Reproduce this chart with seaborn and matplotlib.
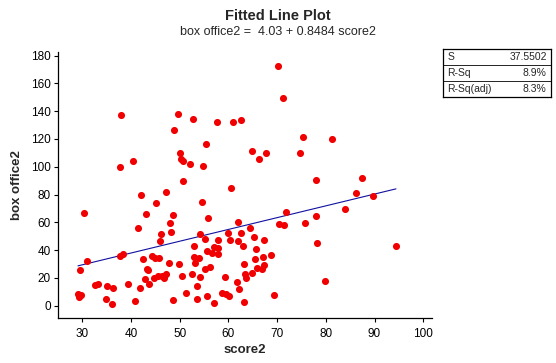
import matplotlib
matplotlib.use("Agg")
import matplotlib.pyplot as plt
import numpy as np
import pandas as pd
import seaborn as sns

# values
score2 = [
    37.9, 49.6, 52.7, 48.8, 57.7, 60.9, 62.6, 55.3, 50.1, 50.3,
    50.7, 52.1, 54.8, 64.9, 66.3, 37.7, 40.4, 50.7, 60.5, 70.2,
    71.2, 75.3, 81.3, 67.7, 74.7, 78.0, 87.5, 42.0, 47.2, 45.1,
    54.6, 30.3, 43.1, 48.6, 55.8, 48.0, 62.0, 41.4, 46.2, 48.2,
    54.1, 59.9, 62.6, 64.5, 45.9, 55.2, 60.3, 62.0, 65.3, 52.9,
    57.9, 63.0, 65.7, 55.5, 57.1, 57.9, 56.6, 57.9, 30.9, 37.8,
    38.3, 42.5, 44.2, 45.0, 45.7, 47.8, 49.9, 52.9, 53.1, 54.0,
    65.5, 63.2, 29.5, 43.2, 43.5, 55.2, 56.2, 65.8, 42.9, 43.7,
    44.7, 45.6, 46.4, 47.1, 46.7, 50.5, 52.5, 54.2, 59.2, 63.5,
    63.6, 64.9, 61.8, 32.7, 33.2, 35.1, 36.3, 39.4, 41.8, 53.6,
    62.2, 29.1, 29.7, 29.3, 34.8, 36.1, 40.9, 48.6, 51.3, 53.6,
    55.5, 57.0, 58.7, 59.5, 60.1, 63.2, 69.4, 79.9, 67.3, 68.8,
    67.1, 67.4, 66.9, 86.2, 89.7, 83.9, 71.8, 78.0, 75.7, 70.4,
    71.4, 78.2, 94.4,
]
box_office2 = [
    137.6, 138.3, 134.7, 126.8, 131.9, 131.9, 134.0, 116.1, 109.6, 105.5,
    104.1, 101.7, 100.3, 111.3, 105.5, 99.6, 103.9, 89.5, 84.7, 172.8,
    149.8, 121.1, 119.7, 109.6, 109.6, 90.2, 91.7, 79.5, 81.6, 73.7,
    74.4, 66.5, 65.8, 65.1, 63.0, 59.4, 60.1, 55.8, 51.7, 52.9,
    51.7, 52.2, 52.2, 55.8, 46.4, 47.9, 47.2, 46.4, 49.3, 42.9,
    47.2, 42.9, 40.7, 39.3, 42.0, 41.4, 37.8, 37.1, 32.1, 35.7,
    37.1, 33.5, 35.7, 34.2, 34.2, 30.7, 29.9, 35.0, 30.7, 34.2,
    33.5, 29.9, 25.6, 26.3, 25.8, 26.3, 27.8, 27.1, 19.2, 15.6,
    20.3, 21.3, 21.5, 22.8, 20.3, 21.3, 22.8, 20.6, 20.6, 22.8,
    19.9, 23.5, 17.0, 14.9, 15.6, 14.1, 12.7, 15.6, 12.7, 14.1,
    12.0, 8.4, 7.7, 6.2, 5.2, 1.2, 3.4, 4.1, 9.1, 4.8,
    7.0, 1.9, 9.1, 8.6, 7.2, 2.7, 7.7, 17.9, 47.2, 36.4,
    35.0, 29.2, 26.3, 80.9, 78.8, 69.4, 67.3, 64.4, 59.4, 58.9,
    57.9, 45.0, 42.9,
]

intercept = 4.03
slope = 0.8484
stat_names = ["S", "R-Sq", "R-Sq(adj)"]
stat_values = ["37.5502", "8.9%", "8.3%"]
x_ticks = [30, 40, 50, 60, 70, 80, 90, 100]
y_ticks = [0, 20, 40, 60, 80, 100, 120, 140, 160, 180]

sns.set_theme(style="ticks")
plt.rcParams['font.family'] = ['Liberation Sans', 'DejaVu Sans']

df = pd.DataFrame({"score2": score2, "box office2": box_office2})

fig = plt.figure(figsize=(5.56, 3.63), dpi=100)
ax = fig.add_axes([58 / 556, 45 / 363, 374 / 556, 266 / 363])

sns.scatterplot(data=df, x="score2", y="box office2", ax=ax,
                color="#f00000", s=26, linewidth=0, zorder=3)

# fitted line over the data range
fit_x = np.array([df["score2"].min(), df["score2"].max()])
fit = pd.DataFrame({"score2": fit_x, "box office2": intercept + slope * fit_x})
sns.lineplot(data=fit, x="score2", y="box office2", ax=ax,
             color="#1010a0", linewidth=0.8, zorder=2)

ax.set_xlim(25, 101.8)
ax.set_ylim(-8.8, 182.6)
ax.set_xticks(x_ticks)
ax.set_yticks(y_ticks)
ax.tick_params(direction="out", length=3, width=0.8, colors="black", labelsize=8.5, pad=2)
ax.tick_params(axis="x", pad=4)
for side in ["left", "bottom"]:
    ax.spines[side].set_color("black")
    ax.spines[side].set_linewidth(0.9)
sns.despine(ax=ax)

ax.set_xlabel("score2", fontsize=9.5, fontweight="bold", labelpad=3)
ax.set_ylabel("box office2", fontsize=9.5, fontweight="bold", labelpad=6)

fig.text(0.5, 1 - 16 / 363, "Fitted Line Plot", ha="center", va="center",
         fontsize=10.5, fontweight="bold")
fig.text(0.5, 1 - 32 / 363, f"box office2 =  {intercept:.2f} + {slope:.4f} score2",
         ha="center", va="center", fontsize=9)

# statistics box
stats_ax = fig.add_axes([443 / 556, (363 - 97) / 363, 108 / 556, 48 / 363])
stats_ax.set_xticks([])
stats_ax.set_yticks([])
for sp in stats_ax.spines.values():
    sp.set_color("black")
    sp.set_linewidth(0.9)
n = len(stat_names)
for i, (name, val) in enumerate(zip(stat_names, stat_values)):
    yc = 1 - (i + 0.5) / n
    stats_ax.text(0.04, yc, name, ha="left", va="center", fontsize=7.5)
    stats_ax.text(0.96, yc, val, ha="right", va="center", fontsize=7.5)
    if i > 0:
        stats_ax.axhline(1 - i / n, color="black", linewidth=0.6)

fig.savefig("out.png", dpi=100)
